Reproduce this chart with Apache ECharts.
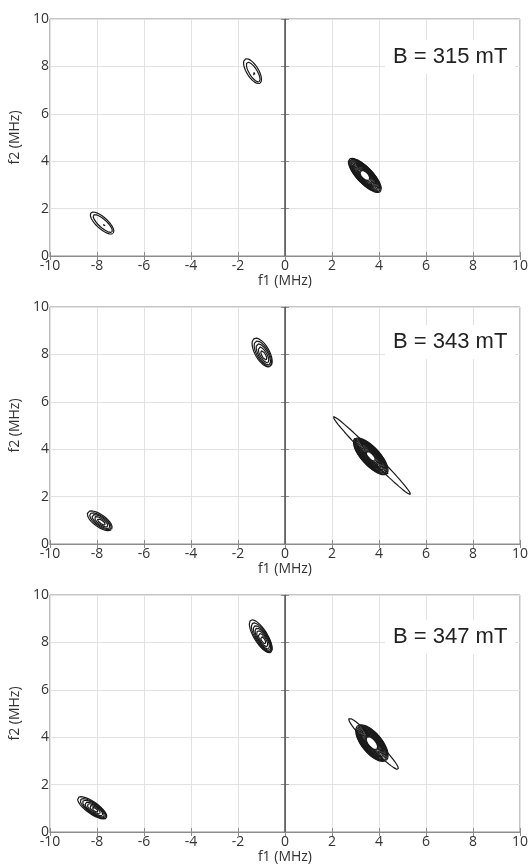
<!DOCTYPE html>
<html><head><meta charset="utf-8">
<script src="https://cdn.jsdelivr.net/npm/echarts@6/dist/echarts.min.js"></script>
<style>html,body{margin:0;padding:0;background:#fff}#c{width:531px;height:865px}</style>
</head><body><div id="c"></div>
<script>
// ---- data (MHz) ----
const fieldLabels = ['B = 315 mT', 'B = 343 mT', 'B = 347 mT'];
const xAxisName = 'f1 (MHz)';
const yAxisName = 'f2 (MHz)';
const xRange = [-10, 10];
const yRange = [0, 10];

// each peak: centre [f1,f2], tilt (deg), contour rings [semiMajor, semiMinor, dx, dy]
const peaks315 = [
  { c: [-7.78, 1.39], ang: -42, rings: [[0.64,0.24],[0.53,0.17,0.03,-0.02],[0.05,0.05,0.1,-0.07]] },
  { c: [-1.38, 7.80], ang: -58, rings: [[0.60,0.25],[0.48,0.17,0.03,-0.04],[0.05,0.05,0.07,-0.1]] },
  { c: [3.40, 3.40], ang: -46, rings: [[0.95,0.33],[0.90,0.325],[0.85,0.32],[0.80,0.31],[0.75,0.30],[0.70,0.29],[0.65,0.28],[0.60,0.27],[0.55,0.26],[0.50,0.24],[0.45,0.22],[0.40,0.20],[0.35,0.18],[0.30,0.16],[0.26,0.14]] }
];
const peaks343 = [
  { c: [-7.88, 0.98], ang: -35, rings: [[0.62,0.26],[0.54,0.21,0.03,-0.02],[0.45,0.17,0.05,-0.03],[0.34,0.12,0.06,-0.04],[0.2,0.07,0.07,-0.05]] },
  { c: [-0.97, 8.08], ang: -60, rings: [[0.68,0.30],[0.60,0.25,0.03,-0.05],[0.50,0.20,0.05,-0.08],[0.38,0.14,0.06,-0.10],[0.22,0.08,0.07,-0.12]] },
  { c: [3.70, 3.73], ang: -45, rings: [[2.32,0.16]] },
  { c: [3.65, 3.70], ang: -47, rings: [[1.00,0.38],[0.95,0.37],[0.90,0.36],[0.85,0.35],[0.80,0.34],[0.75,0.33],[0.70,0.31],[0.65,0.29],[0.60,0.28],[0.55,0.26],[0.50,0.24],[0.45,0.22],[0.40,0.20],[0.35,0.17],[0.30,0.14],[0.26,0.11]] },
  { c: [2.98, 4.38], ang: 0, rings: [[0.07,0.07]] },
  { c: [4.32, 3.02], ang: 0, rings: [[0.07,0.07]] }
];
const peaks347 = [
  { c: [-8.20, 1.02], ang: -35, rings: [[0.74,0.25],[0.66,0.22,0.05,-0.03],[0.58,0.20,0.08,-0.05],[0.49,0.17,0.10,-0.07],[0.39,0.14,0.12,-0.08],[0.27,0.10,0.12,-0.08],[0.15,0.06,0.12,-0.08]] },
  { c: [-1.03, 8.26], ang: -58, rings: [[0.80,0.28],[0.72,0.25,0.04,-0.06],[0.63,0.22,0.07,-0.10],[0.54,0.19,0.09,-0.13],[0.44,0.16,0.10,-0.15],[0.32,0.12,0.10,-0.16],[0.18,0.07,0.10,-0.16]] },
  { c: [3.77, 3.72], ang: -45.5, rings: [[1.50,0.19]] },
  { c: [3.70, 3.75], ang: -50, rings: [[0.95,0.42],[0.90,0.41],[0.85,0.40],[0.80,0.39],[0.75,0.37],[0.70,0.35],[0.65,0.33],[0.60,0.31],[0.55,0.29],[0.50,0.27],[0.45,0.24],[0.40,0.21],[0.36,0.18],[0.33,0.16]] }
];
const panels = [peaks315, peaks343, peaks347];

// ---- layout ----
const L = 46, W = 476, H = 237, tops = [19, 307, 595];
const labelFont = 'Open Sans';
const frame = '#8c8c8c';
const txt = '#333';

function ringPoints(p, r) {
  const th = p.ang * Math.PI / 180, cx = p.c[0] + (r[2] || 0), cy = p.c[1] + (r[3] || 0);
  const pts = [];
  for (let i = 0; i <= 96; i++) {
    const t = 2 * Math.PI * i / 96, u = r[0] * Math.cos(t), v = r[1] * Math.sin(t);
    pts.push([cx + u * Math.cos(th) - v * Math.sin(th), cy + u * Math.sin(th) + v * Math.cos(th)]);
  }
  return pts;
}

const grid = [], xAxis = [], yAxis = [], series = [], title = [];
panels.forEach((peaks, k) => {
  grid.push({ left: L, width: W, top: tops[k], height: H, show: true, borderColor: frame, borderWidth: 1, backgroundColor: '#fff' });
  const common = { type: 'value', gridIndex: k,
    axisLine: { show: true, lineStyle: { color: frame, width: 1 } },
    axisTick: { show: true, inside: true, length: 4, lineStyle: { color: frame } } };
  xAxis.push(Object.assign({}, common, { position: 'bottom', min: xRange[0], max: xRange[1], interval: 2,
    name: xAxisName, nameLocation: 'middle', nameGap: 17,
    nameTextStyle: { fontFamily: labelFont, fontSize: 14, color: txt },
    axisLabel: { margin: 3, fontFamily: labelFont, fontSize: 14, color: txt, showMinLabel: true, showMaxLabel: true },
    splitLine: { show: true, lineStyle: { color: '#e2e2e2', width: 1 } } }));
  xAxis.push(Object.assign({}, common, { position: 'top', min: xRange[0], max: xRange[1], interval: 2,
    axisLabel: { show: false }, splitLine: { show: false } }));
  yAxis.push(Object.assign({}, common, { position: 'left', min: yRange[0], max: yRange[1], interval: 2,
    name: yAxisName, nameLocation: 'middle', nameGap: 16,
    nameTextStyle: { fontFamily: labelFont, fontSize: 14, color: txt },
    axisLabel: { margin: 1, fontFamily: labelFont, fontSize: 14, color: txt, showMinLabel: true, showMaxLabel: true },
    splitLine: { show: true, lineStyle: { color: '#e2e2e2', width: 1 } } }));
  yAxis.push(Object.assign({}, common, { position: 'right', min: yRange[0], max: yRange[1], interval: 2,
    axisLabel: { show: false }, splitLine: { show: false } }));

  // zero line
  series.push({ type: 'line', xAxisIndex: 2 * k, yAxisIndex: 2 * k, data: [], silent: true,
    markLine: { silent: true, symbol: ['none', 'none'], label: { show: false },
      lineStyle: { color: '#555', width: 1.5, type: 'solid' }, data: [{ xAxis: 0 }] } });

  peaks.forEach(p => p.rings.forEach(r => {
    series.push({ type: 'line', xAxisIndex: 2 * k, yAxisIndex: 2 * k, data: ringPoints(p, r),
      showSymbol: false, symbol: 'none', smooth: false, silent: true, z: 3,
      lineStyle: { color: '#1a1a1a', width: 1.2 } });
  }));

  title.push({ text: fieldLabels[k], left: 385, top: tops[k] + [21, 18, 25][k],
    backgroundColor: '#fff', padding: [6, 8, 6, 8],
    textStyle: { fontFamily: 'Liberation Sans', fontSize: 22, fontWeight: 'normal', color: '#222' } });
});

const chart = echarts.init(document.getElementById('c'), null, { renderer: 'canvas' });
chart.setOption({ animation: false, backgroundColor: '#fff', title, grid, xAxis, yAxis, series });
</script></body></html>
